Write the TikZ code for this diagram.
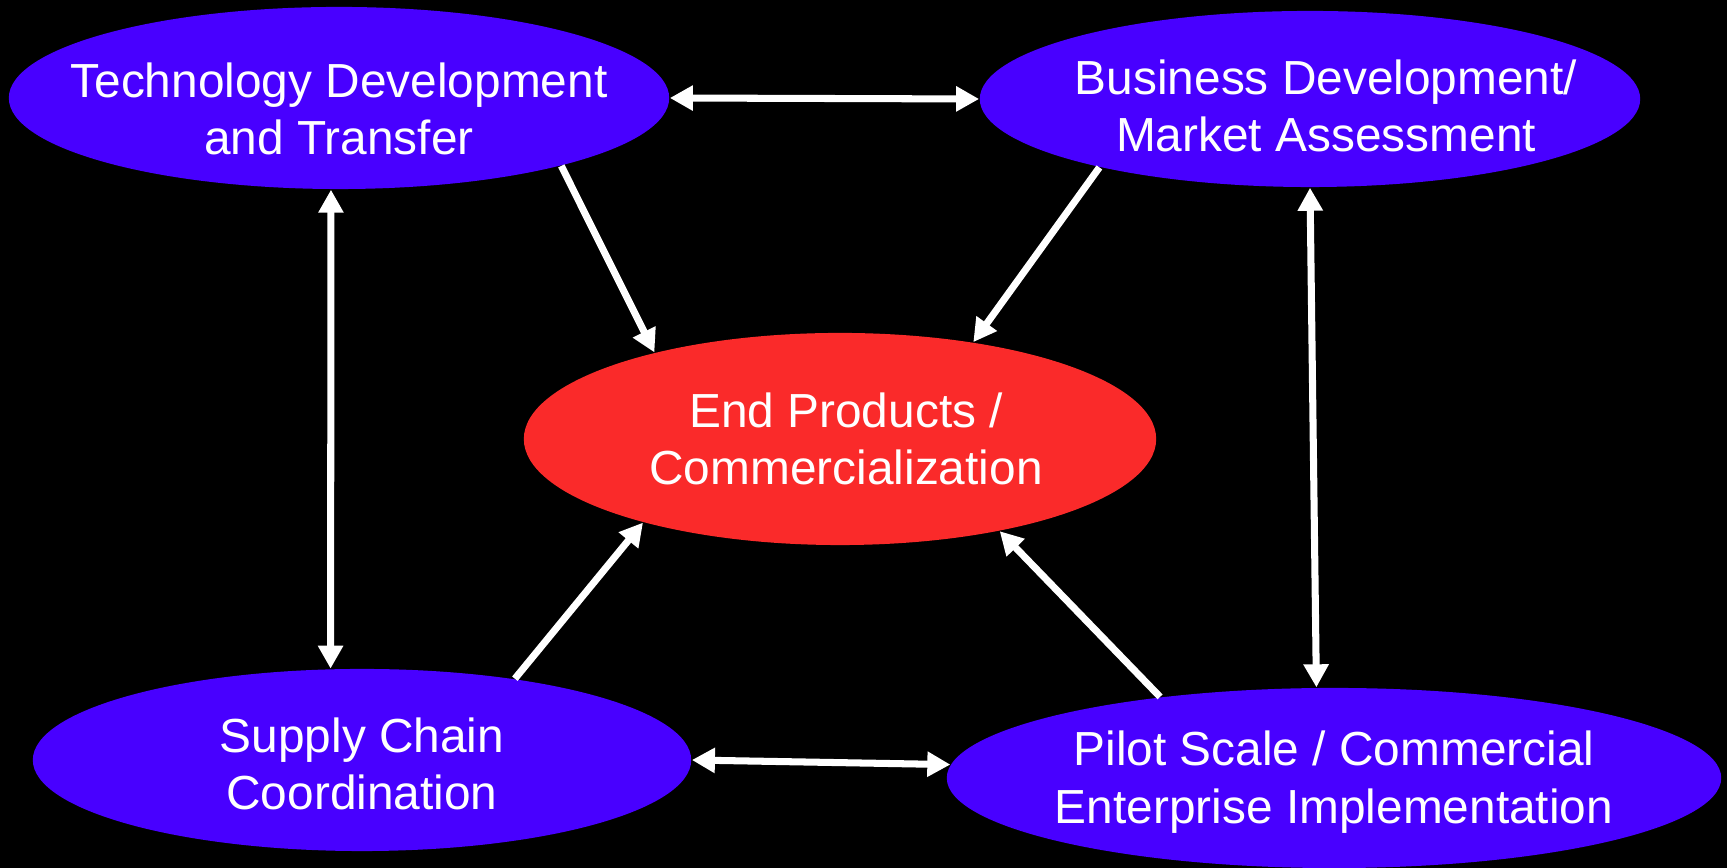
\documentclass[tikz,border=0pt]{standalone}
\usepackage{fontspec}
\setmainfont{Liberation Sans}
\usetikzlibrary{shapes.geometric,arrows.meta}

\definecolor{blobblue}{RGB}{72,0,255}
\definecolor{blobred}{RGB}{250,42,42}

\tikzset{
  blob/.style={ellipse,draw=none,inner sep=0pt},
  txt/.style={text=white,align=center,font=\fontsize{13.6}{16.4}\selectfont},
  link/.style={white,line width=2pt,-{Triangle[length=0.23cm,width=0.24cm]}},
  dlink/.style={white,line width=2pt,{Triangle[length=0.23cm,width=0.24cm]}-{Triangle[length=0.23cm,width=0.24cm]}}
}

\begin{document}
\begin{tikzpicture}[x=0.01cm,y=-0.01cm]

\fill[black] (0,0) rectangle (1727,868);
\useasboundingbox (0,0) rectangle (1727,868);

% Ellipses
\node[blob,fill=blobblue,minimum width=6.6cm,minimum height=1.82cm] (tech) at (339,98) {};
\node[blob,fill=blobblue,minimum width=6.6cm,minimum height=1.76cm] (bus) at (1310,99) {};
\node[blob,fill=blobred,minimum width=6.32cm,minimum height=2.12cm] (end) at (840,439) {};
\node[blob,fill=blobblue,minimum width=6.58cm,minimum height=1.82cm] (supply) at (362,760) {};
\node[blob,fill=blobblue,minimum width=7.74cm,minimum height=1.8cm] (pilot) at (1334,778) {};

% Labels
\node[txt] (techtxt) at ([yshift=-0.11cm]tech.center) {Technology Development\\and Transfer};
\node[txt] (bustxt) at ([xshift=0.16cm,yshift=-0.07cm]bus.center) {Business Development/\\Market Assessment};
\node[txt] (endtxt) at ([xshift=0.06cm]end.center) {End Products /\\Commercialization};
\node[txt] (supplytxt) at ([yshift=-0.04cm]supply.center) {Supply Chain\\Coordination};
\node[txt] (pilottxt) at ([yshift=-0.04cm]pilot.center) {Pilot Scale / Commercial\\Enterprise Implementation};

% Arrows into the centre
\draw[link] (tech.-17) -- (end.155);
\draw[link] (bus.-162) -- (end.36);
\draw[link] (supply.28) -- (end.-157);
\draw[link] (pilot.155) -- (end.-30);

% Two way arrows round the outside
\draw[dlink] (tech.east) -- (bus.west);
\draw[dlink] (supply.east) -- (pilot.178.5);
\draw[dlink] (tech.-95.6) -- (supply.109);
\draw[dlink] (bus.south) -- (pilot.101.8);

\end{tikzpicture}
\end{document}
